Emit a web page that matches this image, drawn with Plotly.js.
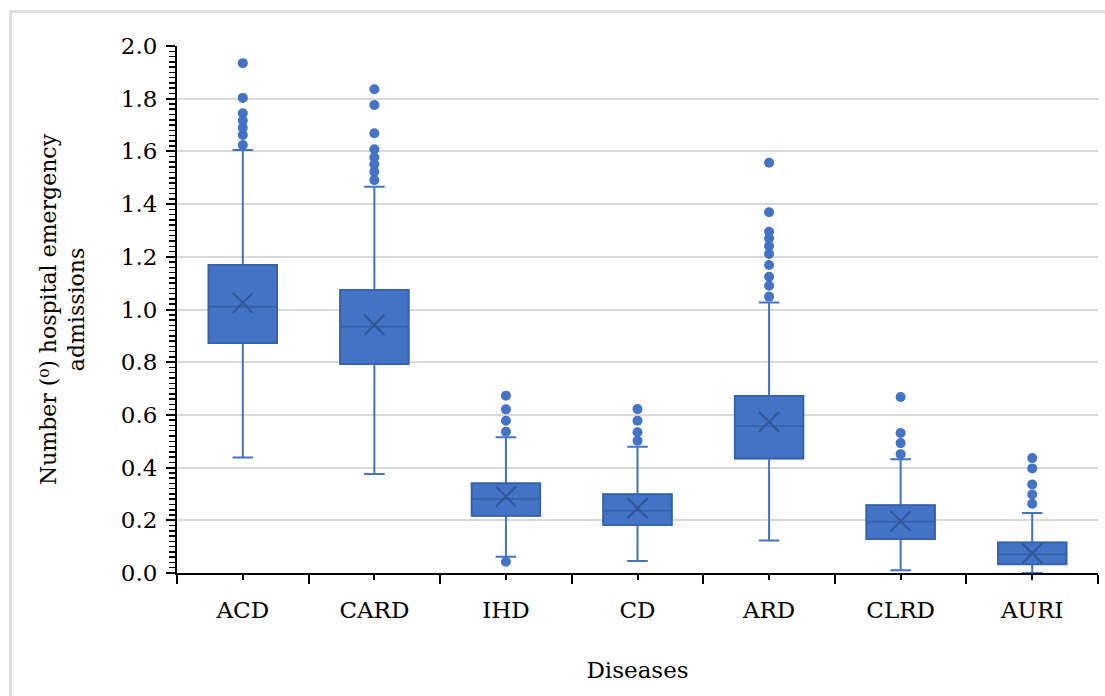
<!DOCTYPE html>
<html>
<head>
<meta charset="utf-8">
<script src="https://cdn.plot.ly/plotly-3.0.1.min.js"></script>
<style>
  html, body { margin: 0; padding: 0; background: #ffffff; }
  #chart { width: 1105px; height: 696px; }
  #frame { position: absolute; left: 9px; top: 10px; right: 0; bottom: 0;
           border-left: 3px solid #dedede; border-top: 3px solid #dedede; pointer-events: none; }
</style>
</head>
<body>
<div id="chart"></div>
<div id="frame"></div>
<script>
const categories = ['ACD', 'CARD', 'IHD', 'CD', 'ARD', 'CLRD', 'AURI'];
const q1 = [0.873, 0.793, 0.217, 0.182, 0.435, 0.129, 0.033];
const medians = [1.011, 0.935, 0.281, 0.236, 0.558, 0.195, 0.071];
const q3 = [1.169, 1.074, 0.340, 0.299, 0.672, 0.257, 0.116];
const lowerFence = [0.438, 0.376, 0.062, 0.046, 0.123, 0.010, 0.0];
const upperFence = [1.605, 1.466, 0.515, 0.479, 1.027, 0.432, 0.228];
const means = [1.025, 0.941, 0.290, 0.246, 0.574, 0.197, 0.075];
const outliersACD = [1.935, 1.803, 1.745, 1.717, 1.690, 1.662, 1.624];
const outliersCARD = [1.836, 1.776, 1.669, 1.608, 1.578, 1.551, 1.523, 1.491];
const outliersIHD = [0.673, 0.621, 0.578, 0.536, 0.043];
const outliersCD = [0.622, 0.578, 0.534, 0.502];
const outliersARD = [1.557, 1.369, 1.295, 1.270, 1.241, 1.211, 1.169, 1.124, 1.090, 1.049];
const outliersCLRD = [0.668, 0.531, 0.493, 0.451];
const outliersAURI = [0.436, 0.397, 0.336, 0.298, 0.263];
const yTitle = 'Number (⁰) hospital emergency<br>admissions';
const xTitle = 'Diseases';

const allOutliers = [outliersACD, outliersCARD, outliersIHD, outliersCD, outliersARD, outliersCLRD, outliersAURI];
const positions = categories.map((c, i) => i);
const outX = [], outY = [];
allOutliers.forEach((arr, i) => arr.forEach(v => { outX.push(i); outY.push(v); }));

const blue = '#4472C4';
const dark = '#2F5597';
const fontFam = 'DejaVu Serif, serif';
const txt = '#000000';

const traces = [
  {
    type: 'box',
    x: positions,
    q1: q1, median: medians, q3: q3,
    lowerfence: lowerFence, upperfence: upperFence,
    width: 0.52,
    whiskerwidth: 0.3,
    fillcolor: blue,
    line: { color: blue, width: 2 },
    boxpoints: false,
    hoverinfo: 'skip',
    showlegend: false
  },
  {
    type: 'box',
    x: positions,
    q1: q1, median: medians, q3: q3,
    lowerfence: q1, upperfence: q3,
    width: 0.52,
    whiskerwidth: 0,
    fillcolor: 'rgba(0,0,0,0)',
    line: { color: '#3560A8', width: 1.6 },
    boxpoints: false,
    hoverinfo: 'skip',
    showlegend: false
  },
  {
    type: 'scatter', mode: 'markers',
    x: outX, y: outY,
    marker: { color: blue, size: 10 },
    hoverinfo: 'skip', showlegend: false
  },
  {
    type: 'scatter', mode: 'markers',
    x: positions, y: means,
    marker: { symbol: 'x-thin-open', size: 20, line: { color: dark, width: 2 }, color: dark },
    hoverinfo: 'skip', showlegend: false
  }
];

const layout = {
  width: 1105, height: 696,
  margin: { l: 177, r: 7, t: 46, b: 123 },
  paper_bgcolor: '#ffffff', plot_bgcolor: '#ffffff',
  font: { family: fontFam, color: txt, size: 23 },
  xaxis: {
    range: [-0.5, 6.5],
    tickmode: 'array', tickvals: positions, ticktext: categories,
    ticks: 'outside', ticklen: 5, tickwidth: 2, tickcolor: '#000',
    ticklabelstandoff: 10,
    tickfont: { family: fontFam, size: 23, color: txt },
    showline: true, linecolor: '#000', linewidth: 2,
    showgrid: false, zeroline: false,
    minor: { tickmode: 'array', tickvals: [-0.5, 0.5, 1.5, 2.5, 3.5, 4.5, 5.5, 6.5], ticks: 'outside', ticklen: 9, tickwidth: 2, tickcolor: '#000', showgrid: false },
    title: { text: xTitle, font: { family: fontFam, size: 23, color: txt }, standoff: 40 }
  },
  yaxis: {
    range: [0, 2.0], dtick: 0.2, tickformat: '.1f',
    ticks: 'outside', ticklen: 9, tickwidth: 2, tickcolor: '#000',
    ticklabelstandoff: 4,
    tickfont: { family: fontFam, size: 23, color: txt },
    showline: true, linecolor: '#000', linewidth: 2,
    showgrid: true, gridcolor: '#d9d9d9', gridwidth: 2,
    zeroline: false,
    minor: { dtick: 0.02, ticks: 'outside', ticklen: 6, tickwidth: 1.5, tickcolor: '#000', showgrid: false },
    title: { text: yTitle, font: { family: fontFam, size: 22, color: txt }, standoff: 30 }
  }
};

Plotly.newPlot('chart', traces, layout, { displayModeBar: false, staticPlot: true });
</script>
</body>
</html>
